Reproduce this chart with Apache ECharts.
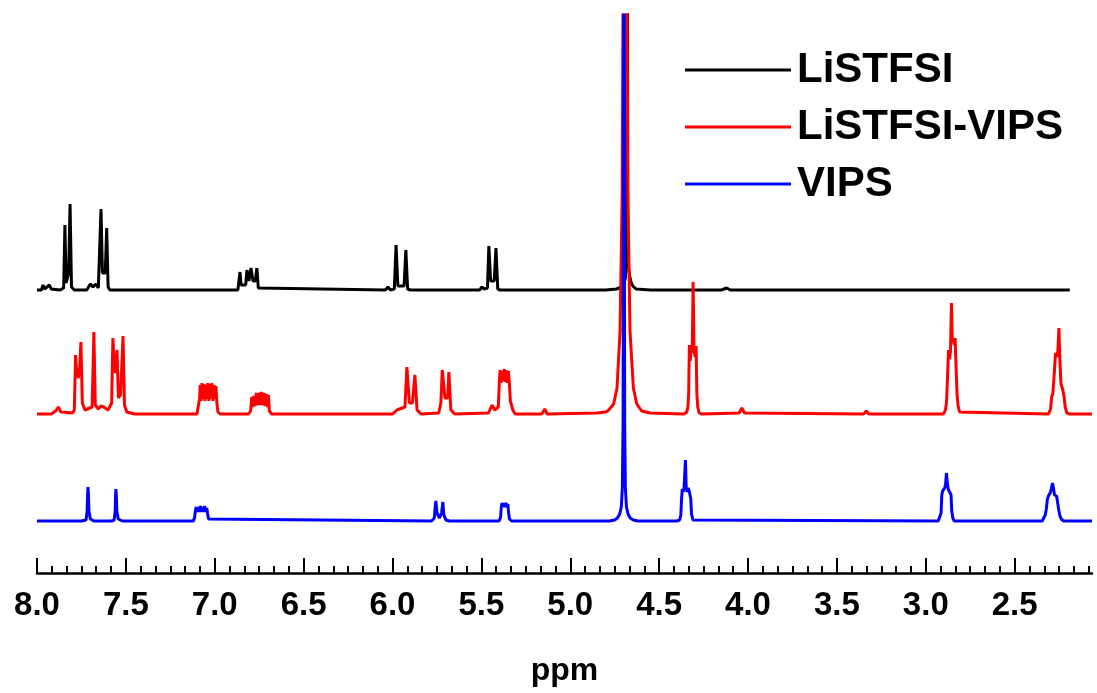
<!DOCTYPE html>
<html>
<head>
<meta charset="utf-8">
<script src="https://cdn.jsdelivr.net/npm/echarts@6/dist/echarts.min.js"></script>
<style>
html,body{margin:0;padding:0;background:#fff;}
#chart{width:1097px;height:693px;}
</style>
</head>
<body>
<div id="chart"></div>
<script>
// ---- data (x = chemical shift in ppm, y = stacked intensity in arbitrary units) ----
const seriesNames = ['LiSTFSI', 'LiSTFSI-VIPS', 'VIPS'];
const seriesColors = ['#000000', '#ff0000', '#0000ff'];

const majorTicks = [8.0, 7.5, 7.0, 6.5, 6.0, 5.5, 5.0, 4.5, 4.0, 3.5, 3.0, 2.5];
const minorPerMajor = 6; // 5 minor ticks between labelled ticks

const spectrumLiSTFSI = [
[8.00,283],[7.975,283],[7.966,288],[7.957,284],[7.93,288],[7.92,284],[7.87,283],
[7.85,285],[7.843,348],[7.836,290],[7.828,290],[7.822,300],[7.814,369],[7.806,286],[7.79,283],
[7.72,283],[7.70,289],[7.685,286],[7.67,289],[7.655,285],
[7.648,286],[7.64,364],[7.632,300],[7.616,300],[7.608,345],[7.60,286],[7.59,283],
[6.87,283],[6.864,285],[6.858,301],[6.852,288],[6.826,288],[6.819,303],[6.808,292],[6.796,305],[6.785,292],[6.772,292],[6.763,305],[6.755,285],[6.745,283],
[6.04,283],[6.026,286],[6.012,283],[5.99,284],[5.98,328],[5.97,287],[5.935,287],[5.925,323],[5.915,284],[5.90,283],
[5.51,283],[5.497,286],[5.485,284],[5.466,285],[5.458,327],[5.448,292],[5.428,292],[5.418,325],[5.408,284],[5.395,283],
[4.80,283],[4.74,284],[4.71,286],[4.70,289],[4.69,295],[4.683,330],[4.68,1200],[4.677,330],[4.672,305],[4.666,297],[4.658,291],[4.648,287],[4.63,284],[4.55,283],
[4.15,283],[4.12,285],[4.10,283],[2.19,283]
];

const spectrumLiSTFSI_VIPS = [
[8.00,159],[7.92,159],[7.895,162],[7.88,166],[7.865,161],[7.80,160],
[7.79,163],[7.783,218],[7.776,200],[7.768,195],[7.76,205],[7.753,231],[7.745,170],[7.73,163],
[7.69,166],[7.68,241],[7.672,168],[7.655,164],[7.64,167],[7.625,166],[7.60,163],[7.58,170],[7.573,235],[7.566,210],[7.558,200],[7.55,223],[7.542,175],[7.53,178],[7.516,237],[7.508,168],[7.495,161],[7.45,159],
[7.10,159],[7.09,161],[7.085,175],[7.082,188],[7.077,172],[7.072,190],[7.066,174],[7.061,189],[7.055,172],[7.05,188],[7.044,174],[7.039,190],[7.033,172],[7.028,189],[7.022,174],[7.016,190],[7.01,172],[7.004,188],[6.998,174],[6.993,187],[6.988,170],[6.982,161],[6.97,159],
[6.81,159],[6.798,162],[6.792,176],[6.786,166],[6.78,177],[6.774,167],[6.766,180],[6.759,168],[6.752,180],[6.745,168],[6.738,181],[6.731,168],[6.724,180],[6.717,167],[6.71,179],[6.703,166],[6.698,178],[6.693,162],[6.68,159],
[6.0,159],[5.975,163],[5.965,162],[5.93,166],[5.919,206],[5.905,170],[5.888,170],[5.874,198],[5.862,163],[5.84,159],
[5.74,160],[5.728,170],[5.72,203],[5.705,175],[5.69,175],[5.683,201],[5.672,163],[5.65,159],
[5.46,160],[5.44,168],[5.425,163],[5.405,166],[5.398,195],[5.394,203],[5.389,190],[5.384,202],[5.378,192],[5.372,204],[5.366,191],[5.36,203],[5.354,190],[5.348,202],[5.342,188],[5.337,172],[5.33,170],[5.323,163],[5.31,159],
[5.16,159],[5.143,164],[5.13,159],
[4.85,160],[4.80,161],[4.784,163],[4.756,169],[4.737,185],[4.72,242],[4.708,380],[4.70,700],[4.692,1500],[4.684,700],[4.676,380],[4.664,242],[4.645,185],[4.626,169],[4.598,162],[4.55,160],
[4.36,159],[4.345,161],[4.338,166],[4.334,180],[4.33,228],[4.325,212],[4.319,228],[4.314,220],[4.309,291],[4.304,226],[4.298,216],[4.292,227],[4.288,180],[4.283,166],[4.275,160],[4.26,159],
[4.05,160],[4.035,165],[4.02,160],
[3.35,159],[3.335,162],[3.32,159],
[2.90,159],[2.89,163],[2.885,168],[2.882,176],[2.878,195],[2.872,223],[2.866,214],[2.861,222],[2.856,270],[2.851,232],[2.846,235],[2.84,228],[2.835,235],[2.829,202],[2.824,178],[2.818,167],[2.81,161],[2.80,159],
[2.31,159],[2.298,164],[2.292,176],[2.285,180],[2.277,200],[2.27,220],[2.264,216],[2.257,222],[2.251,245],[2.246,215],[2.24,190],[2.234,186],[2.228,182],[2.222,176],[2.216,166],[2.206,160],[2.19,159],[2.065,159]
];

const spectrumVIPS = [
[8.00,52],[7.75,52],[7.724,53],[7.718,62],[7.715,80],[7.713,86],[7.711,80],[7.708,62],[7.70,54],[7.68,52],
[7.58,52],[7.566,53],[7.56,62],[7.558,79],[7.556,84],[7.554,79],[7.551,62],[7.543,54],[7.52,52],
[7.12,52],[7.113,56],[7.109,62],[7.105,66],[7.099,61],[7.093,66],[7.087,61],[7.081,67],[7.075,61],[7.069,66],[7.063,61],[7.057,67],[7.051,61],[7.045,65],[7.04,59],[7.035,54],[7.025,52],
[5.78,52],[5.765,55],[5.76,66],[5.756,72],[5.75,60],[5.736,55],[5.724,60],[5.72,66],[5.717,71],[5.711,58],[5.70,53],[5.68,52],
[5.40,52],[5.392,56],[5.388,66],[5.384,70],[5.379,66],[5.374,70],[5.368,66],[5.362,70],[5.356,66],[5.351,69],[5.347,60],[5.342,54],[5.33,52],
[4.78,52],[4.75,53],[4.735,55],[4.722,59],[4.713,66],[4.707,85],[4.703,150],[4.70,500],[4.699,1500],[4.697,500],[4.694,150],[4.69,85],[4.684,66],[4.675,59],[4.663,55],[4.645,53],[4.62,52],
[4.40,52],[4.385,53],[4.378,58],[4.374,74],[4.37,84],[4.365,81],[4.36,85],[4.356,83],[4.352,113],[4.348,86],[4.343,81],[4.337,85],[4.331,82],[4.326,84],[4.322,74],[4.318,59],[4.31,53],[4.30,52],
[2.93,52],[2.92,54],[2.914,60],[2.91,78],[2.905,82],[2.899,80],[2.894,85],[2.889,88],[2.884,100],[2.879,90],[2.874,84],[2.868,82],[2.863,84],[2.858,78],[2.854,62],[2.848,55],[2.84,52],
[2.345,52],[2.335,54],[2.328,58],[2.322,64],[2.316,74],[2.31,77],[2.304,76],[2.298,81],[2.292,86],[2.287,90],[2.282,85],[2.276,78],[2.27,76],[2.264,77],[2.258,70],[2.252,63],[2.245,57],[2.238,54],[2.225,52],[2.065,52]
];

const spectra = [spectrumLiSTFSI, spectrumLiSTFSI_VIPS, spectrumVIPS];

// ---- axis scaffolding ----
const X_MIN = 2.065, X_MAX = 8.0;
const minorTicks = [];
for (let i = 0; i < majorTicks.length; i++) {
  const step = 0.5 / minorPerMajor;
  for (let k = 1; k < minorPerMajor; k++) {
    const v = +(majorTicks[i] - k * step).toFixed(4);
    if (v >= X_MIN) minorTicks.push(v);
  }
}

const FONT = '"Liberation Sans", Arial, sans-serif';
const chart = echarts.init(document.getElementById('chart'), null, {renderer: 'canvas'});

const option = {
  animation: false,
  backgroundColor: '#ffffff',
  grid: {left: 37, right: 5, top: 15, bottom: 120, containLabel: false},
  legend: {
    orient: 'vertical',
    left: 680,
    top: 44,
    icon: 'rect',
    itemWidth: 106,
    itemHeight: 3,
    itemGap: 15,
    data: seriesNames,
    textStyle: {fontFamily: FONT, fontWeight: 'bold', fontSize: 42, color: '#000', padding: [0, 0, 0, 1]}
  },
  xAxis: [
    {
      type: 'value', inverse: true, min: X_MIN, max: X_MAX,
      name: 'ppm', nameLocation: 'middle', nameGap: 82,
      nameTextStyle: {fontFamily: FONT, fontWeight: 'bold', fontSize: 32, color: '#000'},
      axisLine: {show: true, lineStyle: {color: '#000', width: 2.5}},
      axisTick: {show: true, inside: true, length: 15, lineStyle: {color: '#000', width: 2}, customValues: majorTicks},
      axisLabel: {show: true, margin: 16, customValues: majorTicks,
        formatter: v => v.toFixed(1),
        fontFamily: FONT, fontWeight: 'bold', fontSize: 33, color: '#000'},
      splitLine: {show: false}
    },
    {
      type: 'value', inverse: true, min: X_MIN, max: X_MAX, position: 'bottom',
      axisLine: {show: false},
      axisTick: {show: true, inside: true, length: 7, lineStyle: {color: '#000', width: 2}, customValues: minorTicks},
      axisLabel: {show: false},
      splitLine: {show: false}
    }
  ],
  yAxis: {type: 'value', min: 0, max: 558, show: false},
  series: seriesNames.map((name, i) => ({
    name: name,
    type: 'line',
    xAxisIndex: 0,
    data: spectra[i],
    showSymbol: false,
    symbol: 'none',
    clip: true,
    lineStyle: {color: seriesColors[i], width: 3},
    itemStyle: {color: seriesColors[i]},
    z: 2 + i
  }))
};
chart.setOption(option);
</script>
</body>
</html>
